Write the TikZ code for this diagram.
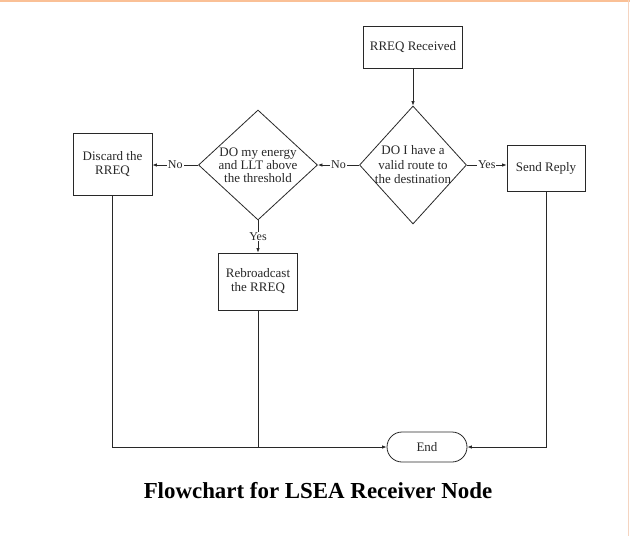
\documentclass[tikz,border=0pt]{standalone}
\usepackage{fontspec}
\setmainfont{Liberation Serif}
\usetikzlibrary{shapes.geometric,shapes.misc,arrows.meta}
\definecolor{edgetop}{RGB}{250,192,150}
\definecolor{edgeright}{RGB}{245,212,192}
\definecolor{ink}{RGB}{40,40,40}
\begin{document}
\begin{tikzpicture}[x=1pt,y=-1pt,
  every node/.style={font=\fontsize{13}{14}\selectfont, text=ink},
  box/.style={draw=ink, line width=0.8pt, rectangle, inner sep=0pt, align=center},
  dia/.style={draw=ink, line width=0.8pt, diamond, inner sep=0pt},
  term/.style={draw=ink, line width=0.8pt, rounded rectangle, minimum width=80pt, minimum height=30pt, inner sep=0pt},
  flow/.style={draw=ink, line width=0.8pt, -{Latex[length=4.5pt,width=3.5pt]}},
  plain/.style={draw=ink, line width=0.8pt},
  lbl/.style={fill=white, inner sep=1pt, font=\fontsize{12}{13}\selectfont}
]
\useasboundingbox (0,0) rectangle (630,536);
\fill[white] (0,0) rectangle (630,536);
\draw[edgetop, line width=1.5pt] (0,0.75) -- (630,0.75);
\draw[edgeright, line width=1.2pt] (628.5,0) -- (628.5,536);

\node[box, minimum width=99pt, minimum height=42pt] (rreq) at (413,47) {RREQ Received};
\node[dia, minimum width=107pt, minimum height=118pt,
  label={[align=center, font=\fontsize{13}{14.5}\selectfont]center:{DO I have a\\valid route to\\the destination}}] (d1) at (413,165) {};
\node[dia, minimum width=119pt, minimum height=110pt,
  label={[align=center, font=\fontsize{13}{13}\selectfont]center:{DO my energy\\and LLT above\\the threshold}}] (d2) at (258,165) {};
\node[box, minimum width=79pt, minimum height=62pt] (disc) at (112.5,164) {Discard the\\RREQ};
\node[box, minimum width=78pt, minimum height=46pt] (send) at (546,168) {Send Reply};
\node[box, minimum width=79pt, minimum height=57pt] (reb) at (258,281.5) {Rebroadcast\\the RREQ};
\node[term] (end) at (427,447) {End};
\node[anchor=base, font=\bfseries\fontsize{22.9}{26}\selectfont, text=black] (cap) at (318,498) {Flowchart for LSEA Receiver Node};

\draw[flow] (rreq.south) -- (d1.north);
\draw[flow] (d1.west) -- node[lbl] {No} (d2.east);
\draw[flow] (d2.west) -- node[lbl] {No} (d2.west -| disc.east);
\draw[flow] (d1.east) -- node[lbl] {Yes} (d1.east -| send.west);
\draw[flow] (d2.south) -- node[lbl] {Yes} (reb.north);
\draw[flow] (disc.south) |- (end.west);
\draw[plain] (reb.south) -- (reb.south |- end.west);
\draw[flow] (send.south) |- (end.east);
\end{tikzpicture}
\end{document}
